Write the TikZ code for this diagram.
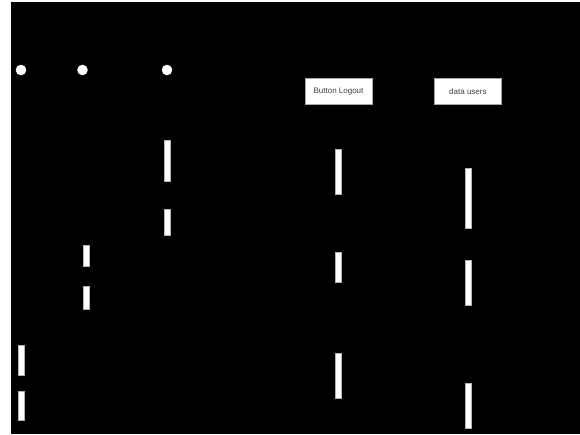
\documentclass[tikz,border=0pt]{standalone}
\usepackage{fontspec}
\setmainfont{Liberation Sans}
\usetikzlibrary{positioning}

\begin{document}
\begin{tikzpicture}[x=1pt, y=-1pt,
        head/.style={circle, fill=white, inner sep=0pt, minimum size=10.6pt},
        obj/.style={draw=gray!70, fill=white, align=center, minimum width=67pt, minimum height=26pt, font=\fontsize{8}{9}\selectfont, text=black!75, inner sep=2pt},
        act/.style={draw=gray!60, fill=white, line width=0.6pt, minimum width=6pt, inner sep=0pt, anchor=north}
    ]
        % background
        \fill[white] (0,0) rectangle (580,434);
        \fill[black] (11,2) rectangle (580,434);
        \useasboundingbox (0,0) rectangle (580,434);

        % lifeline heads
        \node[head] (user) at (21,70) {};
        \node[head] (menu) at (82.5,70) {};
        \node[head] (sys) at (167,70) {};
        \node[obj] (btn) at (338.5,91.3) {Button Logout};
        \node[obj, right=62pt of btn] (data) {data users};

        % activations
        \node[act, minimum height=30pt] (u1) at (21.5,345) {};
        \node[act, minimum height=29pt] (u2) at (21.5,391) {};
        \node[act, minimum height=21pt] (m1) at (86.5,245) {};
        \node[act, minimum height=23pt] (m2) at (86.5,286) {};
        \node[act, minimum height=41pt] (s1) at (167,140) {};
        \node[act, minimum height=26pt] (s2) at (167,209) {};
        \node[act, minimum height=45pt] (b1) at (btn.south |- 0,148.5) {};
        \node[act, minimum height=30pt] (b2) at (btn.south |- 0,252) {};
        \node[act, minimum height=45pt] (b3) at (btn.south |- 0,353) {};
        \node[act, minimum height=60pt] (d1) at (data.south |- 0,168) {};
        \node[act, minimum height=45pt] (d2) at (data.south |- 0,260) {};
        \node[act, minimum height=45pt] (d3) at (data.south |- 0,383) {};
    \end{tikzpicture}
\end{document}
